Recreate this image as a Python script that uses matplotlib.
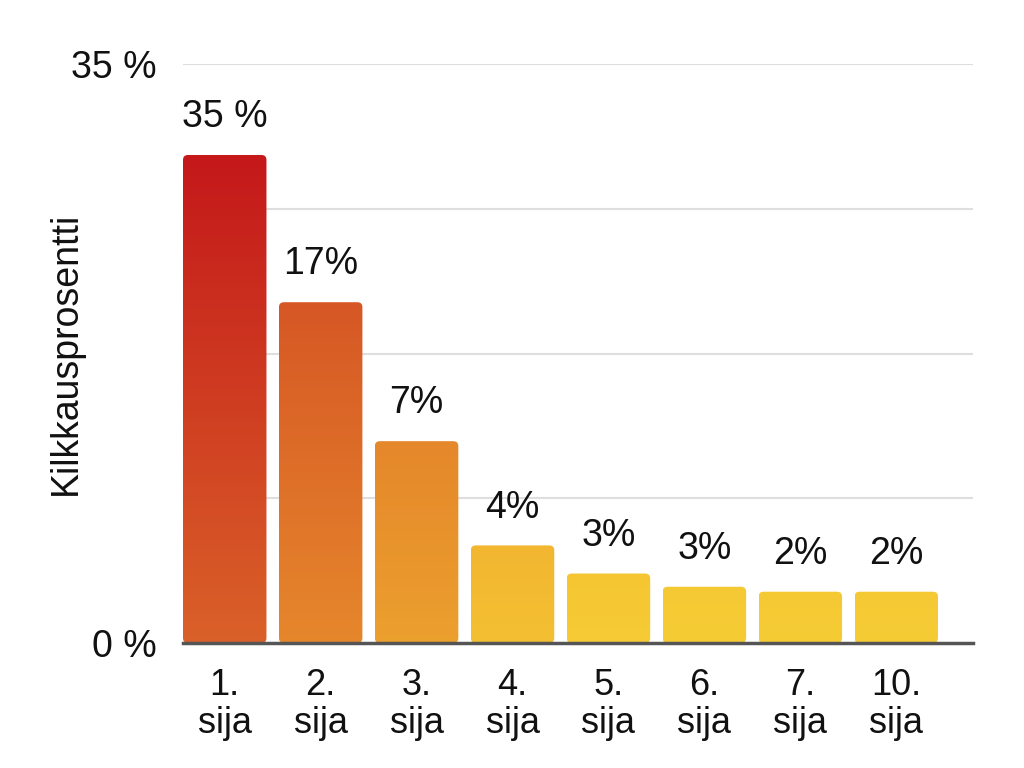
import matplotlib

matplotlib.use("Agg")
import matplotlib.pyplot as plt  # noqa: E402
import numpy as np
from matplotlib.colors import LinearSegmentedColormap
from matplotlib.patches import FancyBboxPatch

# data
ranks = ["1.\nsija", "2.\nsija", "3.\nsija", "4.\nsija",
         "5.\nsija", "6.\nsija", "7.\nsija", "10.\nsija"]
bar_heights = [29.5, 20.6, 12.2, 5.9, 4.2, 3.4, 3.1, 3.1]
value_labels = ["35 %", "17%", "7%", "4%", "3%", "3%", "2%", "2%"]
y_ticks = [0, 35]
y_tick_labels = ["0 %", "35 %"]

# (top colour, bottom colour) of each bar
bar_colors = [
    ("#c4181a", "#da6129"),
    ("#d65725", "#e6872c"),
    ("#e5872b", "#eca02e"),
    ("#f2b630", "#f4c033"),
    ("#f5c632", "#f6cb35"),
    ("#f5c933", "#f6cc35"),
    ("#f5c933", "#f6cc35"),
    ("#f5c933", "#f6cc35"),
]

plt.rcParams["font.family"] = ["Liberation Sans", "DejaVu Sans"]

fig = plt.figure(figsize=(10.24, 7.68), dpi=100)
ax = fig.add_axes([183 / 1024, 1 - 643 / 768, 790 / 1024, 579 / 768])

x = np.arange(len(ranks))
width = 0.87
xlim = (-0.435, 7.80)
ax.set_xlim(*xlim)
ax.set_ylim(0, 35)

# gridlines
for g in np.linspace(0, 35, 5)[1:]:
    ax.axhline(g, color="#dedede", lw=1.5, zorder=0)

# px -> data conversion for rounded corners
px_x = (xlim[1] - xlim[0]) / 790
px_y = 35 / 579
radius = 5 * px_x
aspect = px_y / px_x

grad = np.linspace(0, 1, 256).reshape(-1, 1)
for xi, h, (c_top, c_bot), lab in zip(x, bar_heights, bar_colors, value_labels):
    left = xi - width / 2
    patch = FancyBboxPatch(
        (left, 0), width, h,
        boxstyle=f"round,pad=0,rounding_size={radius}",
        mutation_aspect=aspect,
        facecolor="none", edgecolor="none", zorder=2,
    )
    ax.add_patch(patch)
    cmap = LinearSegmentedColormap.from_list("bar", [c_bot, c_top])
    im = ax.imshow(grad, cmap=cmap, extent=(left, left + width, 0, h),
                   origin="lower", aspect="auto", zorder=2, interpolation="bilinear")
    im.set_clip_path(patch)
    ax.annotate(lab, (xi, h), xytext=(0, 20), textcoords="offset points",
                ha="center", va="baseline", fontsize=27, color="#111111")

ax.set_xlim(*xlim)
ax.set_ylim(0, 35)

ax.set_xticks(x)
ax.set_xticklabels(ranks, fontsize=26, linespacing=1.1, color="#111111")
ax.set_yticks(y_ticks)
ax.set_yticklabels(y_tick_labels, fontsize=27, color="#111111")
ax.tick_params(axis="both", length=0)
ax.tick_params(axis="x", pad=18)
ax.tick_params(axis="y", pad=19)

ax.set_ylabel("Kilkkausprosentti", fontsize=27, color="#111111")
ax.yaxis.set_label_coords(-0.125, 0.5)

for side in ["top", "right", "left"]:
    ax.spines[side].set_visible(False)
ax.spines["bottom"].set_color("#555555")
ax.spines["bottom"].set_linewidth(2.5)
ax.spines["bottom"].set_zorder(3)

fig.savefig("out.png", dpi=100)
plt.close(fig)
